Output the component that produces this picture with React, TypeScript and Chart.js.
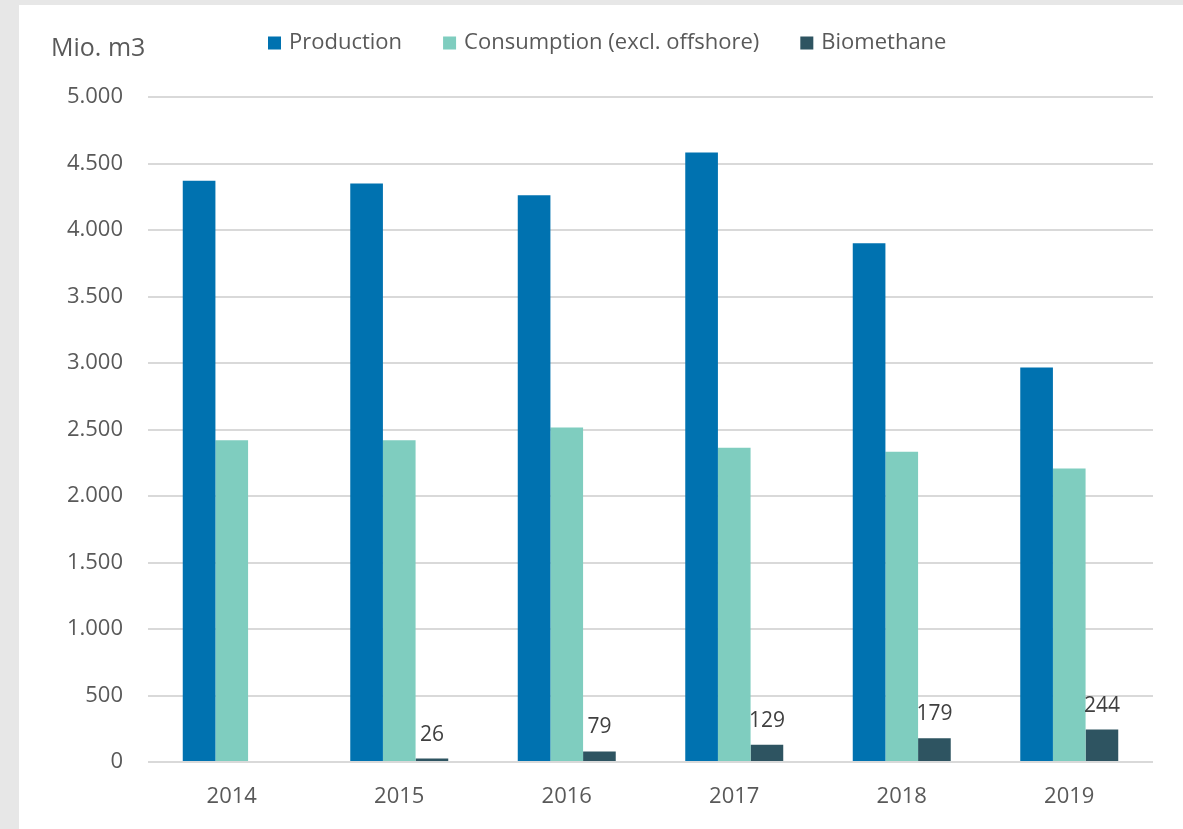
import React, { useEffect, useRef } from "react";
import { Chart, registerables } from "chart.js";

Chart.register(...registerables);

const categories = ["2014", "2015", "2016", "2017", "2018", "2019"];
const production = [4370, 4350, 4262, 4583, 3900, 2967];
const consumption = [2420, 2420, 2515, 2362, 2332, 2206];
const biomethane = [0, 26, 79, 129, 179, 244];
const seriesNames = ["Production", "Consumption (excl. offshore)", "Biomethane"];
const seriesColors = ["#0072B0", "#7FCDBF", "#2E5461"];
const yTickValues = [0, 500, 1000, 1500, 2000, 2500, 3000, 3500, 4000, 4500, 5000];
const unitLabel = "Mio. m3";

const FONT = '"Open Sans", sans-serif';

const formatDe = (v: number) => {
  const s = Math.round(v).toString();
  return s.replace(/\B(?=(\d{3})+(?!\d))/g, ".");
};

const overlayPlugin = {
  id: "overlay",
  afterDatasetsDraw(chart: any) {
    const ctx = chart.ctx as CanvasRenderingContext2D;
    ctx.save();
    // data labels for biomethane
    const meta = chart.getDatasetMeta(2);
    ctx.font = `21px ${FONT}`;
    ctx.fillStyle = "#404040";
    ctx.textAlign = "center";
    ctx.textBaseline = "alphabetic";
    meta.data.forEach((bar: any, i: number) => {
      const v = biomethane[i];
      if (!v) return;
      ctx.fillText(String(v), bar.x, bar.y - 18);
    });
    // unit label
    ctx.font = `25px ${FONT}`;
    ctx.fillStyle = "#595959";
    ctx.textAlign = "left";
    ctx.textBaseline = "middle";
    ctx.fillText(unitLabel, 32, 44);
    // legend
    ctx.font = `22px ${FONT}`;
    const box = 13;
    const boxGap = 8;
    const itemGap = 41;
    const widths = seriesNames.map((n) => ctx.measureText(n).width);
    let x = 249;
    const cy = 38;
    seriesNames.forEach((n, i) => {
      ctx.fillStyle = seriesColors[i];
      ctx.fillRect(x, cy - box / 2, box, box);
      ctx.fillStyle = "#595959";
      ctx.textBaseline = "middle";
      ctx.fillText(n, x + box + boxGap, cy);
      x += box + boxGap + widths[i] + itemGap;
    });
    ctx.restore();
  },
};

export default function App() {
  const ref = useRef<HTMLCanvasElement | null>(null);

  useEffect(() => {
    if (!ref.current) return;
    const chart = new Chart(ref.current, {
      type: "bar",
      data: {
        labels: categories,
        datasets: [
          { label: seriesNames[0], data: production, backgroundColor: seriesColors[0] },
          { label: seriesNames[1], data: consumption, backgroundColor: seriesColors[1] },
          { label: seriesNames[2], data: biomethane, backgroundColor: seriesColors[2] },
        ],
      },
      options: {
        responsive: false,
        animation: false,
        layout: { padding: { top: 92, right: 30, bottom: 0, left: 0 } },
        datasets: {
          bar: { barPercentage: 1, categoryPercentage: 0.585 },
        },
        plugins: {
          legend: { display: false },
          tooltip: { enabled: false },
          title: { display: false },
        },
        scales: {
          x: {
            grid: { display: false },
            border: { display: false },
            ticks: { color: "#595959", font: { family: FONT, size: 22 }, padding: 14 },
            afterFit: (s: any) => {
              s.height = 67;
            },
          },
          y: {
            min: 0,
            max: 5000,
            afterBuildTicks: (s: any) => {
              s.ticks = yTickValues.map((v) => ({ value: v }));
            },
            grid: { color: "#D9D9D9", lineWidth: 2, drawTicks: false },
            border: { display: false },
            ticks: {
              color: "#595959",
              font: { family: FONT, size: 22 },
              padding: 25,
              callback: (v: any) => formatDe(Number(v)),
            },
            afterFit: (s: any) => {
              s.width = 129;
            },
          },
        },
      },
      plugins: [overlayPlugin],
    });
    return () => chart.destroy();
  }, []);

  return (
    <div style={{ position: "fixed", left: 0, top: 0, width: 1183, height: 829, background: "#E7E7E7", overflow: "hidden" }}>
      <div style={{ position: "absolute", left: 19, top: 5, width: 1164, height: 824, background: "#FFFFFF" }}>
        <canvas ref={ref} width={1164} height={824} style={{ display: "block", width: 1164, height: 824 }} />
      </div>
    </div>
  );
}
